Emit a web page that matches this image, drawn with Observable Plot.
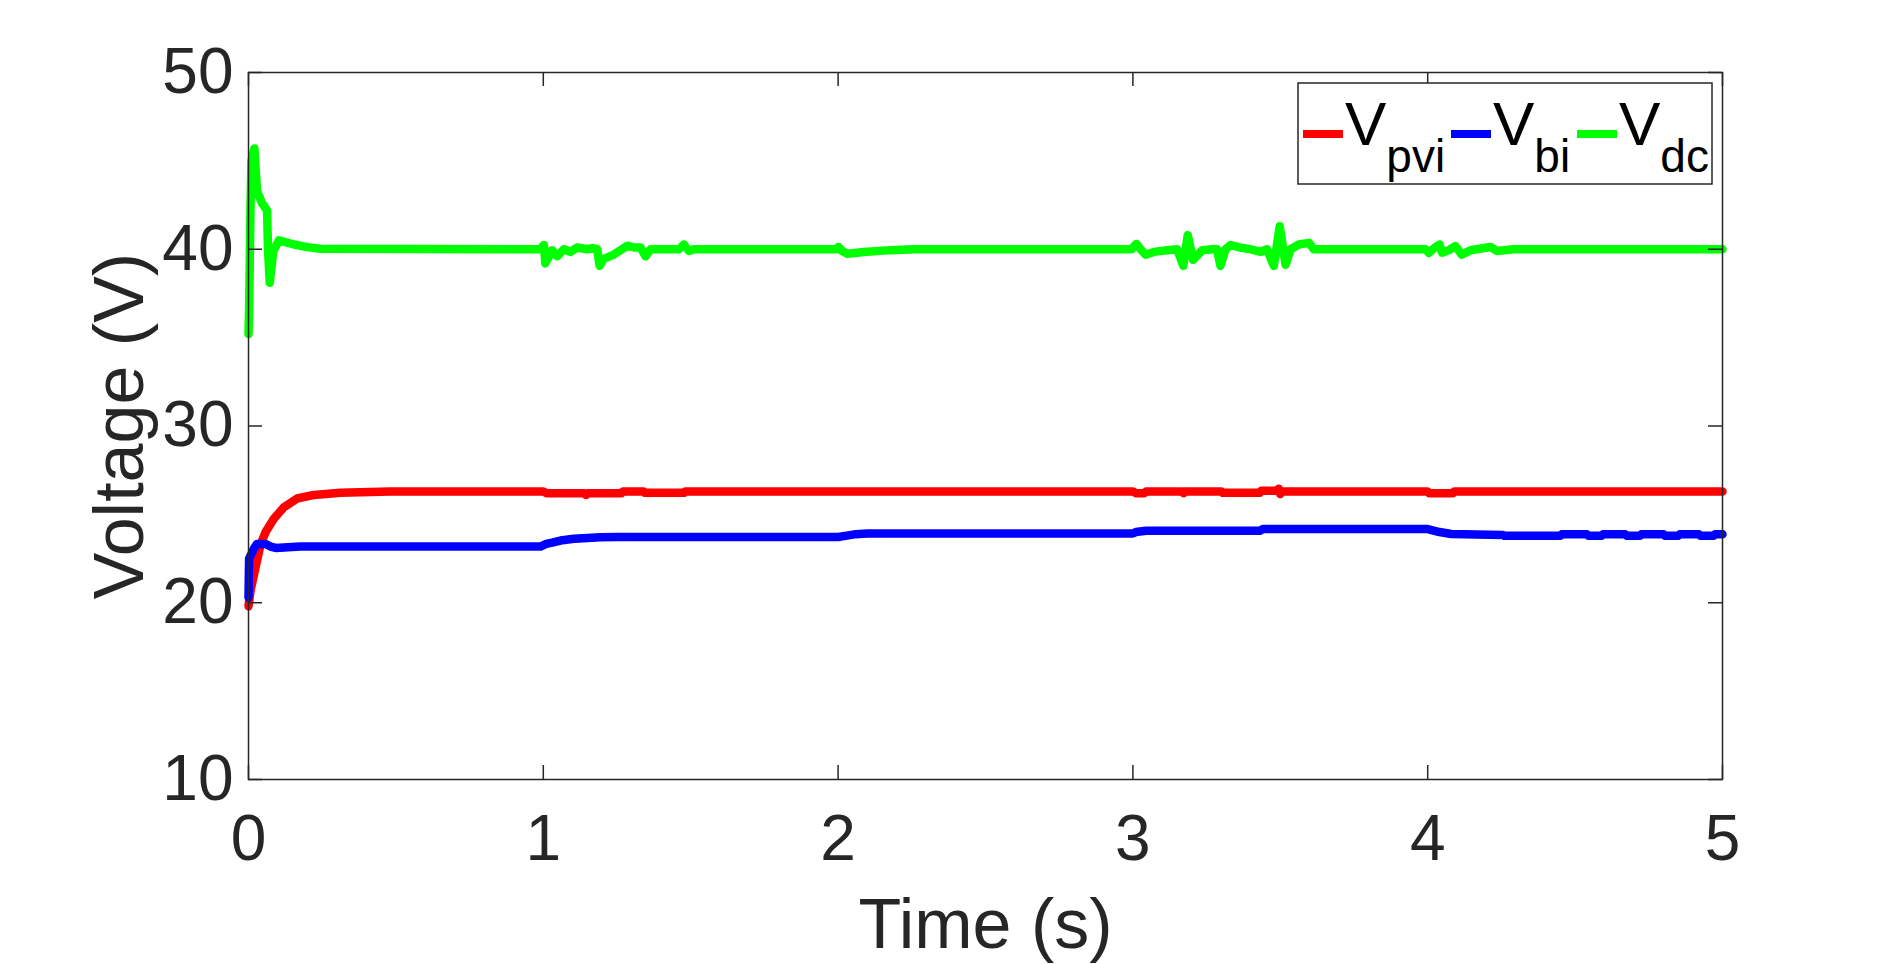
<!DOCTYPE html>
<html>
<head>
<meta charset="utf-8">
<script src="https://cdn.jsdelivr.net/npm/d3@7"></script>
<script src="https://cdn.jsdelivr.net/npm/@observablehq/plot@0.6"></script>
<style>
  html, body { margin: 0; padding: 0; background: #fff; overflow: hidden; }
  #chart svg { display: block; }
</style>
</head>
<body>
<div id="chart"></div>
<script>
// ---- data ----
const xTicks = [0, 1, 2, 3, 4, 5];
const yTicks = [10, 20, 30, 40, 50];

// V_dc (green)
const dcT = [0, 0.002, 0.007, 0.010, 0.020, 0.029, 0.046, 0.063, 0.066, 0.072, 0.084, 0.103, 0.154, 0.199, 0.244,
  0.99, 1.002, 1.007, 1.030, 1.047, 1.070, 1.092, 1.115, 1.149, 1.166, 1.183, 1.191, 1.205, 1.239, 1.285, 1.307, 1.330, 1.347, 1.364, 1.460, 1.477, 1.494, 1.511,
  1.995, 2.001, 2.014, 2.031, 2.087, 2.178, 2.257,
  2.995, 3.012, 3.026, 3.043, 3.071, 3.116, 3.150, 3.171, 3.186, 3.204, 3.235, 3.269, 3.285, 3.297, 3.314, 3.331, 3.365, 3.399, 3.433, 3.455, 3.478, 3.498, 3.518, 3.535, 3.563, 3.597, 3.614,
  3.993, 4.004, 4.021, 4.040, 4.049, 4.072, 4.094, 4.115, 4.145, 4.213, 4.235, 4.29,
  5.0];
const dcV = [35.2, 36.5, 42.6, 45.0, 45.7, 43.3, 42.6, 42.2, 40.1, 38.1, 39.9, 40.5, 40.27, 40.12, 40.03,
  40.0, 40.24, 39.2, 39.94, 39.6, 40.0, 39.85, 40.1, 40.0, 40.07, 40.0, 39.06, 39.46, 39.7, 40.2, 40.1, 40.1, 39.6, 40.0, 40.0, 40.27, 39.9, 40.0,
  40.0, 40.13, 39.9, 39.75, 39.85, 39.95, 40.0,
  40.0, 40.3, 40.0, 39.69, 39.85, 39.94, 40.0, 39.06, 40.8, 39.4, 39.94, 40.0, 40.0, 39.06, 40.0, 40.24, 40.09, 40.0, 39.85, 40.0, 39.06, 41.3, 39.12, 40.0, 40.27, 40.36, 40.0,
  40.0, 39.8, 40.05, 40.27, 39.8, 39.95, 40.18, 39.7, 39.94, 40.13, 39.9, 40.0,
  40.0];

// V_pvi (red)
const pvT = [0, 0.007, 0.024, 0.041, 0.058, 0.086, 0.12, 0.165, 0.222, 0.312, 0.48,
  1.0, 1.01, 1.14, 1.145, 1.15, 1.265, 1.27, 1.34, 1.345, 1.477, 1.482,
  3.0, 3.01, 3.038, 3.045, 3.168, 3.172, 3.176, 3.30, 3.305, 3.43, 3.435, 3.49, 3.495, 3.50, 3.505,
  4.0, 4.005, 4.086, 4.09, 5.0];
const pvV = [19.8, 20.7, 22.0, 23.3, 24.0, 24.75, 25.4, 25.9, 26.1, 26.22, 26.3,
  26.3, 26.2, 26.2, 26.1, 26.2, 26.2, 26.3, 26.3, 26.22, 26.22, 26.3,
  26.3, 26.2, 26.2, 26.3, 26.3, 26.2, 26.3, 26.3, 26.22, 26.22, 26.33, 26.33, 26.45, 26.15, 26.3,
  26.3, 26.2, 26.2, 26.3, 26.3];

// V_bi (blue)
const biT = [0, 0.002, 0.018, 0.029, 0.058, 0.075, 0.092, 0.176,
  0.99, 1.01, 1.03, 1.058, 1.104, 1.15, 1.194, 1.25,
  2.0, 2.03, 2.06, 2.1,
  3.0, 3.01, 3.045, 3.43, 3.44,
  4.0, 4.04, 4.08, 4.255, 4.26,
  4.45, 4.455, 4.54, 4.545, 4.59, 4.595, 4.67, 4.675, 4.72, 4.725, 4.80, 4.805, 4.85, 4.855, 4.92, 4.925, 4.97, 4.975,
  5.0];
const biV = [20.3, 22.5, 23.05, 23.33, 23.33, 23.18, 23.1, 23.18,
  23.18, 23.33, 23.4, 23.52, 23.62, 23.66, 23.71, 23.72,
  23.72, 23.8, 23.88, 23.92,
  23.92, 24.0, 24.07, 24.07, 24.17,
  24.17, 24.0, 23.89, 23.84, 23.79,
  23.79, 23.87, 23.87, 23.79, 23.79, 23.87, 23.87, 23.79, 23.79, 23.87, 23.87, 23.79, 23.79, 23.87, 23.87, 23.79, 23.79, 23.87,
  23.87];

const seriesNames = ["pvi", "bi", "dc"];
const seriesColors = ["#ff0000", "#0000ff", "#00ff00"];

// ---- build tables ----
const toRows = (T, V) => T.map((t, i) => ({t, v: V[i]}));
const pvRows = toRows(pvT, pvV);
const biRows = toRows(biT, biV);
const dcRows = toRows(dcT, dcV);

// ---- layout ----
const W = 1904, H = 964;
const mL = 248, mR = 182, mT = 72, mB = 185;
const innerW = W - mL - mR, innerH = H - mT - mB;
const tickLen = 14;
const axisColor = "#262626";
const font = "'Liberation Sans', Arial, Helvetica, sans-serif";
const lineW = 8.5;

const lineOpts = (c) => ({x: "t", y: "v", stroke: c, strokeWidth: lineW, strokeLinejoin: "round", strokeLinecap: "round"});

const chart = Plot.plot({
  width: W, height: H,
  marginLeft: mL, marginRight: mR, marginTop: mT, marginBottom: mB,
  style: {fontFamily: font, background: "white", color: axisColor},
  x: {domain: [0, 5]},
  y: {domain: [10, 50]},
  marks: [
    Plot.line(pvRows, lineOpts(seriesColors[0])),
    Plot.line(biRows, lineOpts(seriesColors[1])),
    Plot.line(dcRows, lineOpts(seriesColors[2])),
    Plot.frame({stroke: axisColor, strokeWidth: 1.5}),
    // inward ticks on all four sides
    Plot.tickX(xTicks, {x: d => d, stroke: axisColor, strokeWidth: 1.5, insetTop: innerH - tickLen}),
    Plot.tickX(xTicks, {x: d => d, stroke: axisColor, strokeWidth: 1.5, insetBottom: innerH - tickLen}),
    Plot.tickY(yTicks, {y: d => d, stroke: axisColor, strokeWidth: 1.5, insetRight: innerW - tickLen}),
    Plot.tickY(yTicks, {y: d => d, stroke: axisColor, strokeWidth: 1.5, insetLeft: innerW - tickLen}),
    Plot.axisX(xTicks, {tickSize: 0, tickPadding: 35, fontSize: 64, fill: axisColor, label: null, tickFormat: d3.format("d")}),
    Plot.axisY(yTicks, {tickSize: 0, tickPadding: 15, fontSize: 64, fill: axisColor, label: null, tickFormat: d3.format("d")}),
    Plot.text(["Time (s)"], {text: d => d, frameAnchor: "bottom", textAnchor: "middle", lineAnchor: "top", dy: 119, fontSize: 70, fill: axisColor}),
    Plot.text(["Voltage (V)"], {text: d => d, frameAnchor: "left", textAnchor: "middle", rotate: -90, dx: -128, lineAnchor: "middle", fontSize: 70, fill: axisColor})
  ]
});
document.getElementById("chart").appendChild(chart);

// ---- legend (inside the axes, top-right) ----
const svg = d3.select(chart);
const lg = svg.append("g").attr("font-family", font).attr("text-anchor", "start");
const box = {x: mL + innerW - 424, y: mT + 11, w: 414, h: 101};
lg.append("rect").attr("x", box.x).attr("y", box.y).attr("width", box.w).attr("height", box.h)
  .attr("fill", "white").attr("stroke", axisColor).attr("stroke-width", 1.5);
const entryX = [5, 153, 279]; // offsets of each entry's swatch from the box's left edge
seriesNames.forEach((name, i) => {
  const x0 = box.x + entryX[i];
  const yMid = box.y + 51;
  lg.append("line").attr("x1", x0).attr("x2", x0 + 40).attr("y1", yMid).attr("y2", yMid)
    .attr("stroke", seriesColors[i]).attr("stroke-width", 8);
  const t = lg.append("text").attr("x", x0 + 42).attr("y", box.y + 62)
    .attr("text-anchor", "start").attr("font-size", 62).attr("fill", "#000");
  t.append("tspan").text("V");
  t.append("tspan").attr("font-size", 46).attr("dy", 27).text(name);
});
</script>
</body>
</html>
